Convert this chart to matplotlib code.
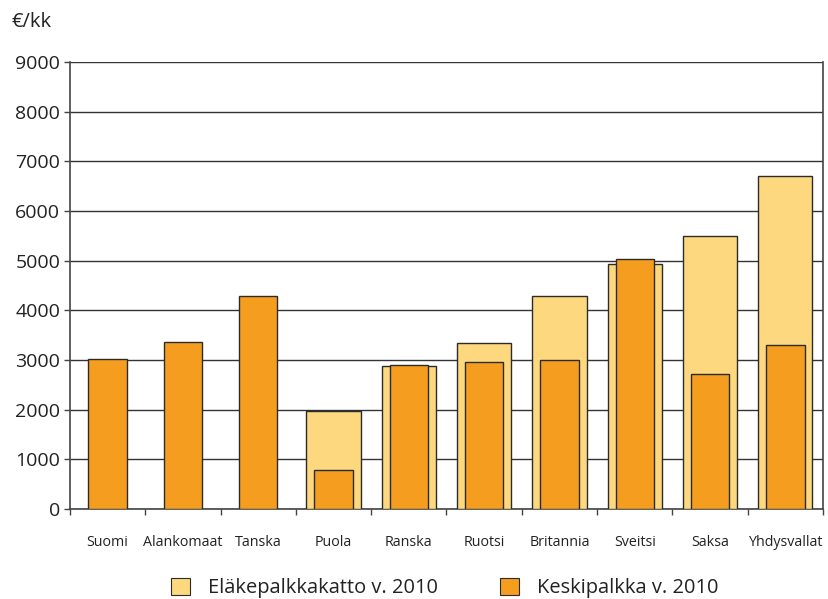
import numpy as np
import matplotlib
matplotlib.use("Agg")
import matplotlib.pyplot as plt
from matplotlib.patches import Patch

plt.rcParams['font.family'] = ['Open Sans', 'DejaVu Sans']

categories = ["Suomi", "Alankomaat", "Tanska", "Puola", "Ranska", "Ruotsi",
              "Britannia", "Sveitsi", "Saksa", "Yhdysvallat"]
ceiling_2010 = [np.nan, np.nan, np.nan, 1970, 2880, 3340, 4290, 4940, 5490, 6710]
avg_wage_2010 = [3030, 3370, 4290, 780, 2900, 2960, 2990, 5030, 2720, 3300]
yticks = [0, 1000, 2000, 3000, 4000, 5000, 6000, 7000, 8000, 9000]
series_names = ["Eläkepalkkakatto v. 2010", "Keskipalkka v. 2010"]

light = "#FDD87E"
dark = "#F59D1E"
edge = "#2b2b2b"

fig = plt.figure(figsize=(8.29, 5.99), dpi=100)
ax = fig.add_axes([70/829, 90/599, 753/829, 447/599])

x = np.arange(len(categories))
ax.bar(x, ceiling_2010, width=0.72, color=light, edgecolor=edge, linewidth=1.0, zorder=3)
ax.bar(x, avg_wage_2010, width=0.51, color=dark, edgecolor=edge, linewidth=1.0, zorder=4)

ax.set_xlim(-0.5, len(categories) - 0.5)
ax.set_ylim(0, 9000)
ax.set_yticks(yticks)
ax.set_yticklabels([str(v) for v in yticks], fontsize=14, color="#222222")
ax.yaxis.grid(True, color="#333333", linewidth=1.0, zorder=0)
ax.set_axisbelow(True)

ax.set_xticks(x)
ax.set_xticklabels(categories, fontsize=10.3, color="#222222")
ax.tick_params(axis='x', which='major', length=0, pad=19)
ax.set_xticks(np.arange(len(categories) + 1) - 0.5, minor=True)
ax.tick_params(axis='x', which='minor', length=4, width=1, color="#444444")
ax.tick_params(axis='y', length=4, width=1, color="#444444", pad=3)

ax.spines['top'].set_visible(False)
for s in ['left', 'bottom', 'right']:
    ax.spines[s].set_color("#444444")
    ax.spines[s].set_linewidth(1.2)

fig.text(12/829, 1 - 22/599, "€/kk", fontsize=14.5, va='center', ha='left', color="#222222")

handles = [Patch(facecolor=light, edgecolor=edge, linewidth=0.8),
           Patch(facecolor=dark, edgecolor=edge, linewidth=0.8)]
fig.legend(handles, series_names, loc='center', bbox_to_anchor=(0.537, 1 - 588/599),
           ncol=2, frameon=False, fontsize=14.4, handlelength=0.95, handleheight=0.95,
           columnspacing=3.1, handletextpad=0.9, labelcolor="#222222")

fig.savefig("out.png", dpi=100)
